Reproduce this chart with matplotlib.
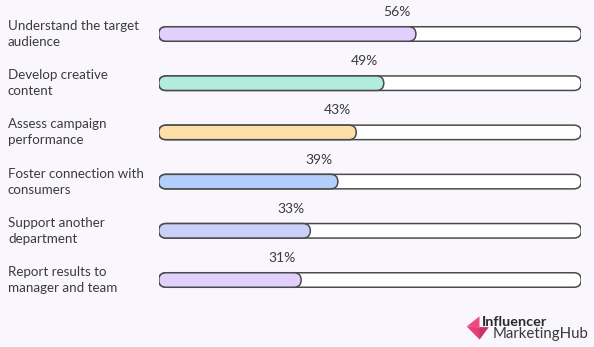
import matplotlib
matplotlib.use("Agg")
import matplotlib.pyplot as plt
from matplotlib.patches import FancyBboxPatch, Polygon
from matplotlib.transforms import blended_transform_factory

categories = [
    "Understand the target\naudience",
    "Develop creative\ncontent",
    "Assess campaign\nperformance",
    "Foster connection with\nconsumers",
    "Support another\ndepartment",
    "Report results to\nmanager and team",
]
values = [56, 49, 43, 39, 33, 31]
value_labels = ["56%", "49%", "43%", "39%", "33%", "31%"]
colors = ["#e1cffd", "#b1ecdd", "#fde0a7", "#b2cffb", "#c9d1f8", "#e1cffd"]

W, H = 594, 347
DPI = 100
BG = "#f9f7fd"
TEXT = "#3b3b3b"
EDGE = "#4a4a4a"
TRACK_MAX = 92.0

plt.rcParams['font.family'] = ['Lato', 'DejaVu Sans']

fig = plt.figure(figsize=(W / DPI, H / DPI), dpi=DPI, facecolor=BG)
left_px, right_px = 158.8, 581.2
ax = fig.add_axes([left_px / W, 0, (right_px - left_px) / W, 1])
ax.set_facecolor(BG)
ax.axis("off")

top_c, bot_c = 34.0, 280.0
n = len(values)
step = (bot_c - top_c) / (n - 1)
ax.set_xlim(0, TRACK_MAX)
ax.set_ylim(n - 1 + (H - bot_c) / step, -top_c / step)

bar_h_px = 14.5
bar_h = bar_h_px / step
px_x = (right_px - left_px) / TRACK_MAX
px_y = step
r_x = (bar_h_px / 2) / px_x
aspect = px_x / px_y

def rbar(x0, width, y, color, z):
    p = FancyBboxPatch((x0, y - bar_h / 2), width, bar_h,
                       boxstyle=f"round,pad=0,rounding_size={r_x}",
                       mutation_aspect=aspect,
                       facecolor=color, edgecolor=EDGE, linewidth=1.1,
                       zorder=z)
    ax.add_patch(p)

for i, (v, c, lab) in enumerate(zip(values, colors, value_labels)):
    rbar(0, TRACK_MAX, i, "white", 1)
    rbar(0, v, i, c, 2)
    ax.text(v - 19 / px_x, i - 22 / step, lab, ha="center", va="center",
            fontsize=10, color=TEXT)

trans = blended_transform_factory(fig.transFigure, ax.transData)
for i, cat in enumerate(categories):
    ax.text(8 / W, i, cat, transform=trans, ha="left", va="center",
            fontsize=9.6, color=TEXT, linespacing=1.4)

def fp(x, y):
    return (x / W, 1 - y / H)

fig.patches.append(Polygon([fp(466.7, 326.5), fp(479.5, 316.3), fp(479.5, 327.3)],
                           closed=True, facecolor="#ee4a7f", edgecolor="none",
                           transform=fig.transFigure, figure=fig))
fig.patches.append(Polygon([fp(466.7, 326.5), fp(479.5, 327.3), fp(488.5, 327.3), fp(479.5, 339.5)],
                           closed=True, facecolor="#e63f77", edgecolor="none",
                           transform=fig.transFigure, figure=fig))
fig.patches.append(Polygon([fp(479.5, 327.3), fp(488.5, 327.3), fp(479.5, 339.5)],
                           closed=True, facecolor="#c8346a", edgecolor="none",
                           transform=fig.transFigure, figure=fig))
fig.text(481.5 / W, 1 - 322 / H, "Influencer", ha="left", va="center",
         fontsize=10.4, fontweight="bold", color="#2a2a2a")
fig.text(492.5 / W, 1 - 334 / H, "MarketingHub", ha="left", va="center",
         fontsize=10.8, color="#3a3a3a")

fig.savefig("out.png", dpi=DPI, facecolor=BG)
